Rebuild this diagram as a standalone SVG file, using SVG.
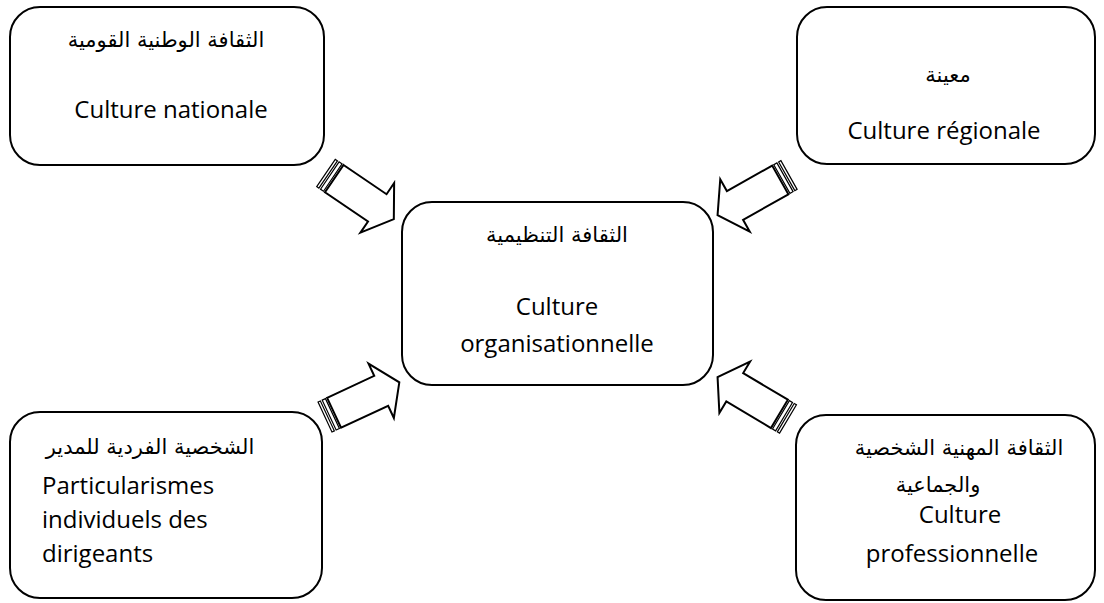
<svg xmlns="http://www.w3.org/2000/svg" width="1104" height="603" viewBox="0 0 1104 603">
<style>
.box{fill:#fff;stroke:#000;stroke-width:2}
.ar{font-family:"DejaVu Sans",sans-serif;font-size:21px;fill:#000;text-anchor:middle}
.en{font-family:"Open Sans",sans-serif;font-size:24px;fill:#000}
.c{text-anchor:middle}
.arr{fill:#fff;stroke:#000;stroke-width:2;stroke-linejoin:miter}
.str{fill:#fff;stroke:#000;stroke-width:1.2}
</style>
<defs>
<g id="sarrow">
<rect class="str" x="0" y="-16.5" width="2.6" height="33"/>
<rect class="str" x="4.6" y="-16.5" width="3.6" height="33"/>
<path class="arr" d="M10,-16.5 L62,-16.5 L62,-30 L82,0 L62,30 L62,16.5 L10,16.5 Z"/>
</g>
</defs>
<rect width="1104" height="603" fill="#fff"/>
<g id="connectors">
<use href="#sarrow" transform="translate(326,173) rotate(34.2)"/>
<use href="#sarrow" transform="translate(789,175) rotate(150.6)"/>
<use href="#sarrow" transform="translate(325,417) rotate(-25)"/>
<use href="#sarrow" transform="translate(788,419) rotate(210.8)"/>
</g>
<g id="national">
<rect class="box" x="10" y="7" width="314" height="158" rx="30"/>
<text class="ar" x="166" y="47">الثقافة الوطنية القومية</text>
<text class="en c" x="171" y="118">Culture nationale</text>
</g>
<g id="regional">
<rect class="box" x="797" y="7" width="298" height="157" rx="30"/>
<text class="ar" x="948" y="82">معينة</text>
<text class="en c" x="944" y="139">Culture régionale</text>
</g>
<g id="organisationnelle">
<rect class="box" x="402" y="202" width="311" height="183" rx="30"/>
<text class="ar" x="557" y="242">الثقافة التنظيمية</text>
<text class="en c" x="557" y="315">Culture</text>
<text class="en c" x="557" y="352">organisationnelle</text>
</g>
<g id="dirigeants">
<rect class="box" x="10" y="412" width="312" height="186" rx="30"/>
<text class="ar" x="150" y="454">الشخصية الفردية للمدير</text>
<text class="en" x="42" y="494">Particularismes</text>
<text class="en" x="42" y="528">individuels des</text>
<text class="en" x="42" y="562">dirigeants</text>
</g>
<g id="professionnelle">
<rect class="box" x="796" y="415" width="299" height="185" rx="30"/>
<text class="ar" x="959" y="455">الثقافة المهنية الشخصية</text>
<text class="ar" x="938" y="492">والجماعية</text>
<text class="en c" x="960" y="523">Culture</text>
<text class="en c" x="952" y="562">professionnelle</text>
</g>
</svg>
